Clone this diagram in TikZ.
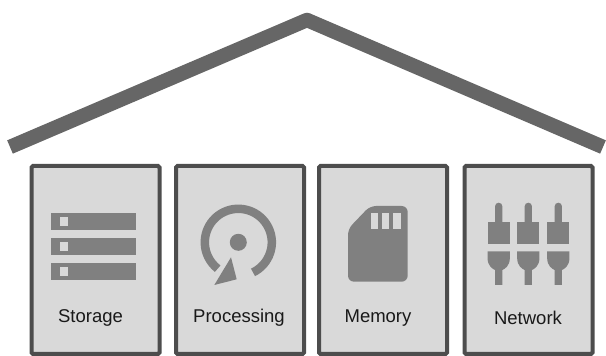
\documentclass[tikz,border=0pt]{standalone}
\usepackage{fontspec}
\setmainfont{Liberation Sans}
\usepackage{xcolor}
\usetikzlibrary{positioning}
\definecolor{roofcolor}{RGB}{102,102,102}
\definecolor{framecolor}{RGB}{77,77,77}
\definecolor{cardcolor}{RGB}{217,217,217}
\definecolor{iconcolor}{RGB}{128,128,128}

\begin{document}
\begin{tikzpicture}[
    x=1pt, y=1pt,
    card/.style={rectangle, draw=framecolor, fill=cardcolor, line width=4pt, rounded corners=1.5pt, minimum width=128pt, minimum height=188pt, inner sep=0pt},
    cardlabel/.style={inner sep=0pt, font=\fontsize{18.5}{20}\selectfont, text=black!90, anchor=base},
    icon/.style={fill=iconcolor, draw=none},
    hole/.style={fill=cardcolor, draw=none},
    roof/.style={draw=roofcolor, line width=14.5pt, line join=round}
]
\useasboundingbox (0,0) rectangle (606,356);

% roof
\coordinate (roofleft) at (10,209);
\coordinate (roofapex) at (307,336);
\coordinate (roofright) at (603,209);
\draw[roof] (roofleft) -- (roofapex) -- (roofright);

% cards
\node[card] (storage) at (95.5,96) {};
\node[card] (processing) at (240,96) {};
\node[card] (memory) at (383,96) {};
\node[card] (network) at (528.5,96) {};

\node[cardlabel] (storagelabel) at (90.5,33) {Storage};
\node[cardlabel] (processinglabel) at (239,33) {Processing};
\node[cardlabel] (memorylabel) at (378,33) {Memory};
\node[cardlabel] (networklabel) at (528,31) {Network};

% storage icon
\foreach \y in {125.7,100.7,75.7} {
    \fill[icon] (51,\y) rectangle (136,\y+17);
    \fill[hole] (59.7,\y+4.2) rectangle (68.3,\y+12.8);
}

% processing icon
\fill[icon] (238.3,113.7) circle (8.5);
\draw[iconcolor, line width=8.5pt] (253,83.6) arc (-64:232:33.5);
\fill[icon] (231,98.7) -- (214.3,71) -- (236.7,76.7) -- cycle;

% memory icon
\fill[icon, rounded corners=6pt] (348,74.3) -- (348,127) -- (370,150) -- (407.7,150) -- (407.7,74.3) -- cycle;
\foreach \x in {370.7,382,393.3} {
    \fill[hole] (\x,127) rectangle (\x+7.2,142.7);
}

% network icon
\foreach \x in {498.7,528.3,558.3} {
    \fill[icon, rounded corners=3.6pt] (\x-3.65,130) -- (\x-3.65,153.3) -- (\x+3.65,153.3) -- (\x+3.65,130) -- cycle;
    \fill[icon] (\x-11.15,112.3) rectangle (\x+11.15,134.3);
    \fill[icon] (\x-11.15,104.7) -- (\x+11.15,104.7) -- (\x+11.15,98) .. controls (\x+11.15,90) and (\x+6,87) .. (\x+3.65,86) -- (\x+3.65,71) -- (\x-3.65,71) -- (\x-3.65,86) .. controls (\x-6,87) and (\x-11.15,90) .. (\x-11.15,98) -- cycle;
}
\end{tikzpicture}
\end{document}
